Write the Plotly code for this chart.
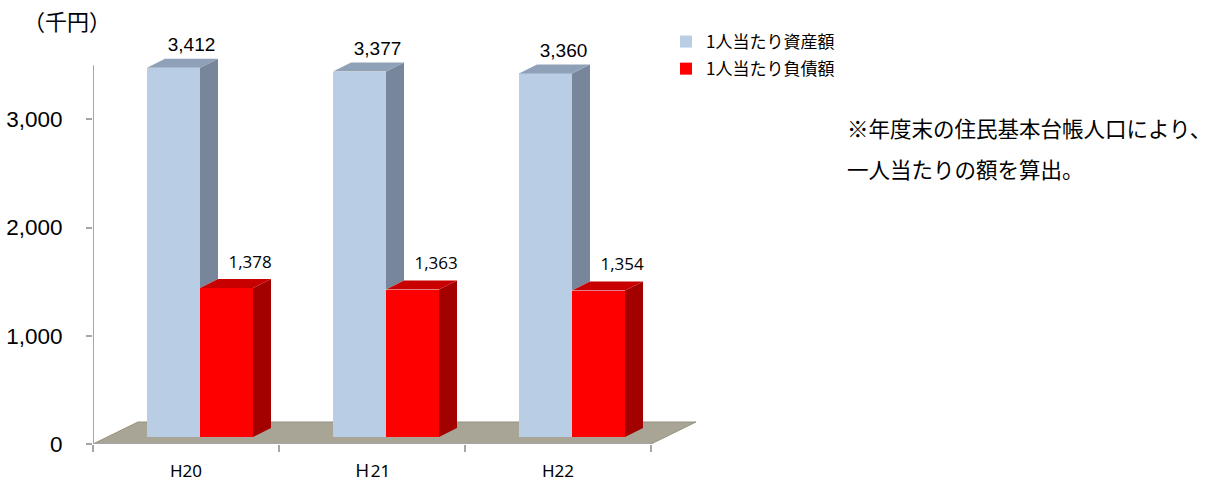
import plotly.graph_objects as go

# ---- data ----
categories = ["H20", "Ｈ21", "H22"]
asset_per_person = [3412, 3377, 3360]
debt_per_person = [1378, 1363, 1354]
series_names = ["1人当たり資産額", "1人当たり負債額"]
y_ticks = [0, 1000, 2000, 3000]
y_ticktext = ["0", "1,000", "2,000", "3,000"]

# ---- geometry (pixel calibration) ----
W, H = 1215, 484
L, R, T, B = 93, W - 720, 20, 40
plot_w, plot_h = W - L - R, H - T - B
PX_PER_CAT = 186.0
PX_PER_VAL = 0.1082
xmax = plot_w / PX_PER_CAT
ymax = plot_h / PX_PER_VAL
shift = 7 / PX_PER_VAL            # bars stand slightly behind the front edge
bw = 53 / PX_PER_CAT              # bar width
dxb, dyb = 18 / PX_PER_CAT, 9 / PX_PER_VAL      # bar depth
dxf, dyf = 45 / PX_PER_CAT, 22 / PX_PER_VAL     # floor depth
off_a = (147 - L) / PX_PER_CAT    # left edge of asset bar within category

def px_x(px):
    return (px - L) / plot_w

def px_y(py):
    return (H - B - py) / plot_h

C_A = dict(front="#B9CDE5", side="#77869A", top="#8FA1B8")
C_D = dict(front="#FF0000", side="#A30000", top="#C80000")

fig = go.Figure()

n = len(categories)
# floor
fig.add_trace(go.Scatter(
    x=[0, n, n + dxf, dxf, 0], y=[0, 0, dyf, dyf, 0],
    fill="toself", fillcolor="#A8A596", mode="lines",
    line=dict(color="#96927F", width=1), hoverinfo="skip", showlegend=False,
    xaxis="x", yaxis="y"))

def poly_side(x1, v0, v1):
    return [x1, x1 + dxb, x1 + dxb, x1, x1, None], [v0, v0 + dyb, v1 + dyb, v1, v0, None]

def poly_top(x0, x1, v):
    return [x0, x0 + dxb, x1 + dxb, x1, x0, None], [v, v + dyb, v + dyb, v, v, None]

xa = [i + off_a + bw / 2 for i in range(n)]
xd = [i + off_a + 1.5 * bw for i in range(n)]

# front faces
fig.add_trace(go.Bar(x=xa, y=asset_per_person, width=bw, name=series_names[0],
                     marker=dict(color=C_A["front"], line=dict(width=0)),
                     xaxis="x", yaxis="y2", legendgroup="a"))
fig.add_trace(go.Bar(x=xd, y=debt_per_person, width=bw, name=series_names[1],
                     marker=dict(color=C_D["front"], line=dict(width=0)),
                     xaxis="x", yaxis="y2", legendgroup="d"))

# asset side + top (side starts at neighbouring debt top; lower part is hidden)
sx, sy, tx, ty = [], [], [], []
for i in range(n):
    x0, x1 = xa[i] - bw / 2, xa[i] + bw / 2
    a, b = poly_side(x1, debt_per_person[i], asset_per_person[i]); sx += a; sy += b
    a, b = poly_top(x0, x1, asset_per_person[i]); tx += a; ty += b
fig.add_trace(go.Scatter(x=sx, y=sy, fill="toself", fillcolor=C_A["side"], mode="none",
                         hoverinfo="skip", showlegend=False, xaxis="x", yaxis="y2"))
fig.add_trace(go.Scatter(x=tx, y=ty, fill="toself", fillcolor=C_A["top"], mode="none",
                         hoverinfo="skip", showlegend=False, xaxis="x", yaxis="y2"))

sx, sy, tx, ty = [], [], [], []
for i in range(n):
    x0, x1 = xd[i] - bw / 2, xd[i] + bw / 2
    a, b = poly_side(x1, 0, debt_per_person[i]); sx += a; sy += b
    a, b = poly_top(x0, x1, debt_per_person[i]); tx += a; ty += b
fig.add_trace(go.Scatter(x=sx, y=sy, fill="toself", fillcolor=C_D["side"], mode="none",
                         hoverinfo="skip", showlegend=False, xaxis="x", yaxis="y2"))
fig.add_trace(go.Scatter(x=tx, y=ty, fill="toself", fillcolor=C_D["top"], mode="none",
                         hoverinfo="skip", showlegend=False, xaxis="x", yaxis="y2"))

# value labels
fig.add_trace(go.Scatter(
    x=[v + dxb for v in xa], y=[v + dyb + 28 for v in asset_per_person],
    mode="text", text=[f"{v:,}" for v in asset_per_person], textposition="top center",
    textfont=dict(family="Liberation Sans, Arial", size=19, color="#000000"),
    cliponaxis=False, hoverinfo="skip", showlegend=False, xaxis="x", yaxis="y2"))
fig.add_trace(go.Scatter(
    x=[v + dxb + 0.03 for v in xd], y=[v + dyb + 66 for v in debt_per_person],
    mode="text", text=[f"{v:,}" for v in debt_per_person], textposition="top center",
    textfont=dict(family="Open Sans", size=17, color="#000000"),
    cliponaxis=False, hoverinfo="skip", showlegend=False, xaxis="x", yaxis="y2"))

axis_col = "#A6A6A6"
fig.update_layout(
    width=W, height=H, margin=dict(l=L, r=R, t=T, b=B, autoexpand=False),
    plot_bgcolor="white", paper_bgcolor="white",
    barmode="overlay", bargap=0,
    xaxis=dict(range=[0, xmax], showgrid=False, zeroline=False, showline=False,
               automargin=False,
               tickvals=[i + 0.5 for i in range(n)], ticktext=categories, ticks="",
               tickfont=dict(family="Noto Sans, Noto Sans CJK JP", size=17, color="#000000"),
               ticklabelstandoff=15,
               minor=dict(tickvals=list(range(n + 1)), ticks="outside", ticklen=7,
                          tickcolor=axis_col, tickwidth=1.5),
               fixedrange=True),
    yaxis=dict(range=[0, ymax], showgrid=False, zeroline=False, showline=False,
               automargin=False,
               tickvals=y_ticks, ticktext=y_ticktext, ticks="outside", ticklen=6,
               tickcolor=axis_col, tickwidth=1.5, ticklabelstandoff=19,
               tickfont=dict(family="Liberation Sans, Arial", size=22.5, color="#000000")),
    yaxis2=dict(range=[-shift, ymax - shift], overlaying="y", visible=False),
    legend=dict(x=px_x(666), y=px_y(24), xanchor="left", yanchor="top",
                traceorder="grouped", tracegroupgap=2, itemwidth=30,
                font=dict(family="Noto Sans CJK JP", size=17, color="#000000"),
                bgcolor="rgba(0,0,0,0)"),
    showlegend=True,
    shapes=[
        dict(type="line", xref="x", yref="y", x0=0, x1=0, y0=0, y1=3500,
             line=dict(color=axis_col, width=2)),
        dict(type="line", xref="x", yref="y", x0=0, x1=n, y0=0, y1=0,
             line=dict(color=axis_col, width=2)),
    ],
    annotations=[
        dict(text="（千円）", xref="paper", yref="paper", x=px_x(67), y=px_y(20),
             xanchor="center", yanchor="middle", showarrow=False,
             font=dict(family="Noto Sans CJK JP", size=22, color="#000000")),
        dict(text="※年度末の住民基本台帳人口により、", xref="paper", yref="paper",
             x=px_x(845), y=px_y(127), xanchor="left", yanchor="middle", showarrow=False,
             font=dict(family="Noto Sans CJK JP", size=21.5, color="#000000")),
        dict(text="一人当たりの額を算出。", xref="paper", yref="paper",
             x=px_x(845), y=px_y(168), xanchor="left", yanchor="middle", showarrow=False,
             font=dict(family="Noto Sans CJK JP", size=21.5, color="#000000")),
    ],
)

fig.write_html("out.html")
